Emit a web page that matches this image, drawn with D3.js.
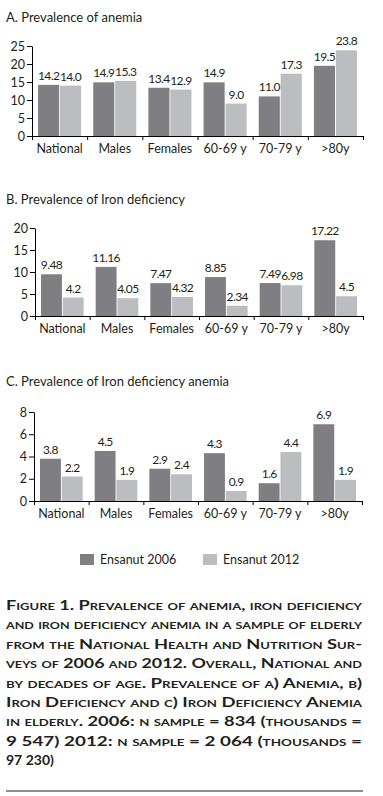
<!DOCTYPE html>
<html>
<head>
<meta charset="utf-8">
<script src="https://cdn.jsdelivr.net/npm/d3@7"></script>
<style>
  body { margin: 0; background: #fff; }
  svg { display: block; font-family: Lato, "Open Sans", sans-serif; }
</style>
</head>
<body>
<svg id="fig" width="383" height="796"></svg>
<script>
var categories = ["National", "Males", "Females", "60-69 y", "70-79 y", ">80y"];
var seriesNames = ["Ensanut 2006", "Ensanut 2012"];

var anemia2006 = [14.2, 14.9, 13.4, 14.9, 11.0, 19.5];
var anemia2012 = [14.0, 15.3, 12.9, 9.0, 17.3, 23.8];
var ironDef2006 = [9.48, 11.16, 7.47, 8.85, 7.49, 17.22];
var ironDef2012 = [4.2, 4.05, 4.32, 2.34, 6.98, 4.5];
var ida2006 = [3.8, 4.5, 2.9, 4.3, 1.6, 6.9];
var ida2012 = [2.2, 1.9, 2.4, 0.9, 4.4, 1.9];

var anemiaTicks = [0, 5, 10, 15, 20, 25];
var ironDefTicks = [0, 5, 10, 15, 20];
var idaTicks = [0, 2, 4, 6, 8];

var captionLines = [
    "Figure 1. Prevalence of anemia, iron deficiency",
    "and iron deficiency anemia in a sample of elderly",
    "from the National Health and Nutrition Sur-",
    "veys of 2006 and 2012. Overall, National and",
    "by decades of age. Prevalence of a) Anemia, b)",
    "Iron Deficiency and c) Iron Deficiency Anemia",
    "in elderly. 2006: n sample = 834 (thousands =",
    "9 547) 2012: n sample = 2 064 (thousands =",
    "97 230)"
];

var colors = ["#7f7f83", "#bcbdc0"];
var ink = "#231f20";

var svg = d3.select("#fig");

function panel(title, titleY, s2006, s2012, ticks, fmt, x0, x1, yZero, yTop) {
    var g = svg.append("g");
    g.append("text").attr("x", 6).attr("y", titleY)
        .attr("font-size", 13).attr("fill", ink).text(title);

    var max = ticks[ticks.length - 1];
    var y = d3.scaleLinear().domain([0, max]).range([yZero, yTop]);
    var x = d3.scaleBand().domain(categories).range([x0, x1])
        .paddingInner(0.22).paddingOuter(0.11);
    var xs = d3.scaleBand().domain([0, 1]).range([0, x.bandwidth()]).paddingInner(0.04);

    var rows = categories.map((c, i) => [c, [s2006[i], s2012[i]]]);

    var grp = g.selectAll("g.cat").data(rows).enter().append("g")
        .attr("class", "cat")
        .attr("transform", d => "translate(" + x(d[0]) + ",0)");

    grp.selectAll("rect").data(d => d[1]).enter().append("rect")
        .attr("x", (d, i) => xs(i)).attr("width", xs.bandwidth())
        .attr("y", d => y(d)).attr("height", d => yZero - y(d))
        .attr("fill", (d, i) => colors[i]);

    grp.selectAll("text").data(d => d[1]).enter().append("text")
        .attr("x", (d, i) => xs(i) + xs.bandwidth() / 2)
        .attr("y", d => y(d) - 5)
        .attr("text-anchor", "middle").attr("font-size", 12)
        .attr("letter-spacing", -0.6).attr("fill", ink)
        .text(fmt);

    // y axis
    var ya = g.append("g").attr("transform", "translate(" + x0 + ",0)")
        .call(d3.axisLeft(y).tickValues(ticks).tickSize(5).tickPadding(2).tickSizeOuter(0));
    ya.selectAll("text").attr("font-size", 12.5).attr("fill", ink).attr("font-family", "Lato, sans-serif");

    // x axis with ticks at category boundaries
    var xb = d3.scaleLinear().domain([0, categories.length]).range([x0, x1]);
    g.append("g").attr("transform", "translate(0," + yZero + ")")
        .call(d3.axisBottom(xb).tickValues(d3.range(categories.length + 1))
            .tickSize(4).tickSizeOuter(0).tickFormat(""));

    var xl = g.append("g").attr("transform", "translate(0," + yZero + ")")
        .call(d3.axisBottom(x).tickSize(0).tickPadding(8));
    xl.select(".domain").remove();
    xl.selectAll("text").attr("font-size", 12.5).attr("fill", ink).attr("font-family", "Lato, sans-serif");

    g.selectAll(".domain, .tick line").attr("stroke", "#000");
}

var oneDec = d3.format(".1f");
panel("A. Prevalence of anemia", 22, anemia2006, anemia2012, anemiaTicks, oneDec, 32, 363, 136, 46);
panel("B. Prevalence of Iron deficiency", 204, ironDef2006, ironDef2012, ironDefTicks, d => String(d), 35, 363, 316, 228);
panel("C. Prevalence of Iron deficiency anemia", 386, ida2006, ida2012, idaTicks, oneDec, 34, 362, 501, 412);

// legend
var lx = [80, 203];
var lg = svg.selectAll("g.leg").data(seriesNames).enter().append("g")
    .attr("class", "leg")
    .attr("transform", (d, i) => "translate(" + lx[i] + ",554)");
lg.append("rect").attr("width", 14).attr("height", 11).attr("fill", (d, i) => colors[i]);
lg.append("text").attr("x", 20).attr("y", 10).attr("font-size", 12.5).attr("fill", ink).text(d => d);

// caption
svg.append("g").selectAll("text").data(captionLines).enter().append("text")
    .attr("x", 6).attr("y", (d, i) => 610 + i * 19.4)
    .attr("font-size", 14).attr("font-weight", "bold").attr("font-variant", "small-caps")
    .attr("fill", ink)
    .attr("textLength", (d, i) => i < captionLines.length - 1 ? 356 : null)
    .attr("lengthAdjust", "spacingAndGlyphs")
    .text(d => d);

svg.append("line").attr("x1", 6).attr("x2", 363).attr("y1", 791).attr("y2", 791)
    .attr("stroke", ink).attr("stroke-width", 1);
</script>
</body>
</html>
